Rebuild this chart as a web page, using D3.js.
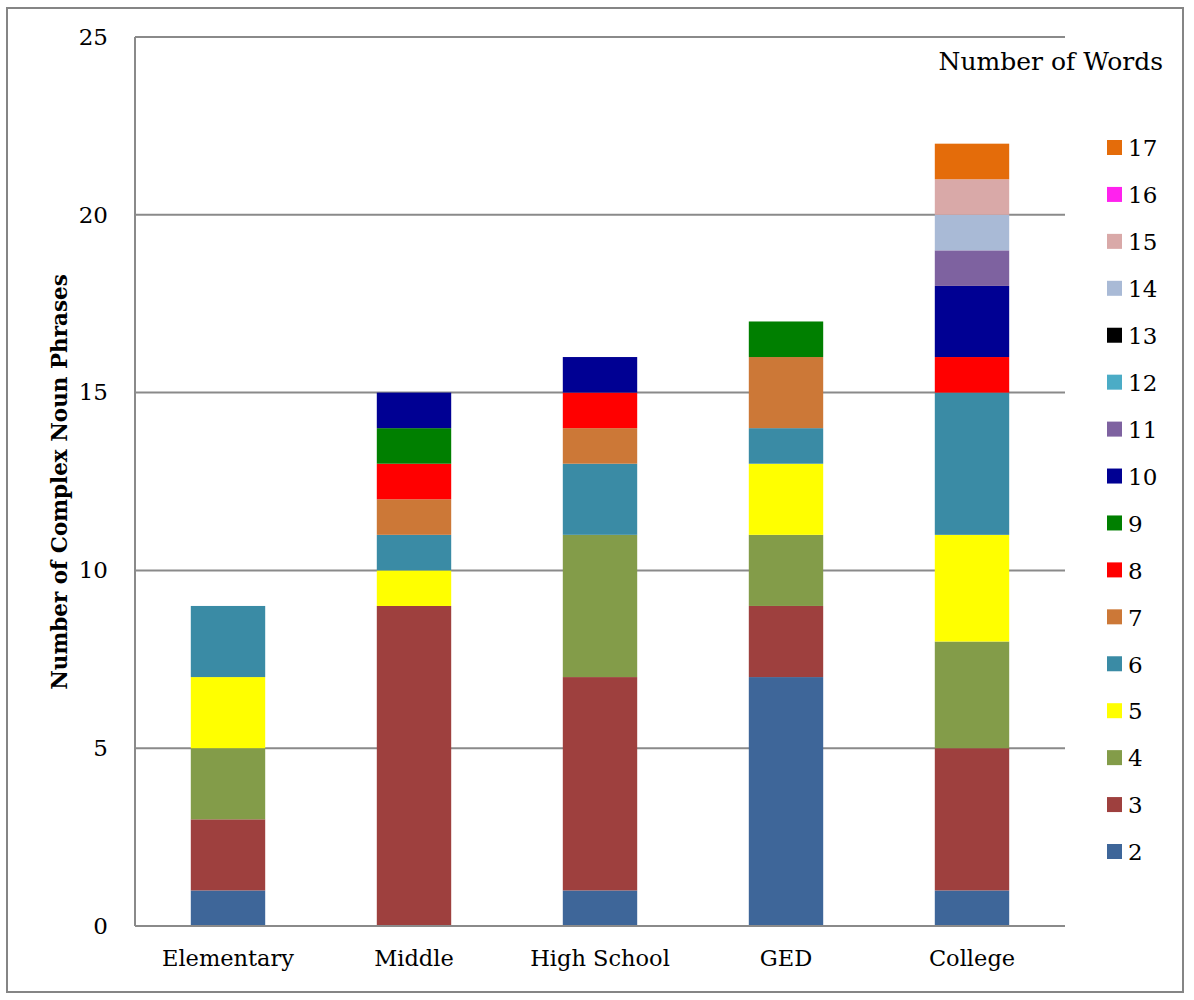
<!DOCTYPE html>
<html><head><meta charset="utf-8">
<script src="https://cdn.jsdelivr.net/npm/d3@7"></script>
<style>body{margin:0;background:#fff;} text{font-family:"DejaVu Serif",serif;fill:#000;}</style>
</head><body>
<svg id="chart" width="1194" height="1000"></svg>
<script>
const categories = ["Elementary", "Middle", "High School", "GED", "College"];
const wordCounts = ["2","3","4","5","6","7","8","9","10","11","12","13","14","15","16","17"];
const colors = ["#3E6699","#9E403E","#839C49","#FFFF00","#3A8BA5","#CC7837","#FF0000","#007F00","#000093","#7E62A0","#4BACC6","#000000","#A9BAD6","#D9A9A8","#FF22EE","#E46C0A"];
// values per category, ordered by word count 2..17
const elementary = [1,2,2,2,2,0,0,0,0,0,0,0,0,0,0,0];
const middle     = [0,9,0,1,1,1,1,1,1,0,0,0,0,0,0,0];
const highSchool = [1,6,4,0,2,1,1,0,1,0,0,0,0,0,0,0];
const ged        = [7,2,2,2,1,2,0,1,0,0,0,0,0,0,0,0];
const college    = [1,4,3,3,4,0,1,0,2,1,0,0,1,1,0,1];
const yTicks = [0,5,10,15,20,25];

const seriesByCat = [elementary, middle, highSchool, ged, college];
const rows = categories.map((c,i)=>{
  const r = {category:c};
  wordCounts.forEach((w,j)=>{ r[w] = seriesByCat[i][j]; });
  return r;
});

const svg = d3.select("#chart");
const margin = {left:135, right:1065, top:37, bottom:926};

// outer frame
svg.append("rect").attr("x",7).attr("y",8).attr("width",1176).attr("height",984)
  .attr("fill","none").attr("stroke","#858585").attr("stroke-width",2);

const x = d3.scaleBand().domain(categories).range([margin.left, margin.right]).paddingInner(0.6).paddingOuter(0.3);
const y = d3.scaleLinear().domain([0,25]).range([margin.bottom, margin.top]);

// gridlines
svg.append("g").selectAll("line").data(yTicks.filter(t=>t>0)).join("line")
  .attr("x1",margin.left).attr("x2",margin.right)
  .attr("y1",d=>y(d)).attr("y2",d=>y(d))
  .attr("stroke","#8a8a8a").attr("stroke-width",2);

const stack = d3.stack().keys(wordCounts)(rows);
const color = d3.scaleOrdinal().domain(wordCounts).range(colors);

svg.append("g").selectAll("g").data(stack).join("g")
  .attr("fill",d=>color(d.key))
  .selectAll("rect").data(d=>d.filter(s=>s[1]-s[0]>0)).join("rect")
  .attr("x",d=>x(d.data.category))
  .attr("width",x.bandwidth())
  .attr("y",d=>y(d[1]))
  .attr("height",d=>y(d[0])-y(d[1]));

// axes
svg.append("line").attr("x1",margin.left).attr("x2",margin.left).attr("y1",margin.top).attr("y2",margin.bottom)
  .attr("stroke","#8a8a8a").attr("stroke-width",2);
svg.append("line").attr("x1",margin.left).attr("x2",margin.right).attr("y1",margin.bottom).attr("y2",margin.bottom)
  .attr("stroke","#8a8a8a").attr("stroke-width",2);

const yAxis = d3.axisLeft(y).tickValues(yTicks).tickSize(0).tickPadding(27);
const yg = svg.append("g").attr("transform",`translate(${margin.left},0)`).call(yAxis);
yg.select(".domain").remove();
yg.selectAll("text").style("font-family","DejaVu Serif").style("font-size","23px").attr("fill","#000").attr("dy","0.32em");

const xAxis = d3.axisBottom(x).tickSize(0).tickPadding(24);
const xg = svg.append("g").attr("transform",`translate(0,${margin.bottom})`).call(xAxis);
xg.select(".domain").remove();
xg.selectAll("text").style("font-family","DejaVu Serif").style("font-size","22.5px").attr("fill","#000");

// y title
svg.append("text").attr("transform","translate(67,482) rotate(-90)")
  .attr("text-anchor","middle").style("font-size","21.5px").style("font-weight","bold")
  .text("Number of Complex Noun Phrases");

// legend
svg.append("text").attr("x",1163).attr("y",70).attr("text-anchor","end").style("font-size","25px").text("Number of Words");
const legendOrder = wordCounts.slice().reverse();
const ly = d3.scalePoint().domain(legendOrder).range([148, 852]);
const lg = svg.append("g").selectAll("g").data(legendOrder).join("g")
  .attr("transform",d=>`translate(1107,${ly(d)})`);
lg.append("rect").attr("x",0).attr("y",-8).attr("width",15).attr("height",15).attr("fill",d=>color(d));
lg.append("text").attr("x",21).attr("y",0).attr("dy","0.36em").style("font-size","23px").text(d=>d);
</script>
</body></html>
